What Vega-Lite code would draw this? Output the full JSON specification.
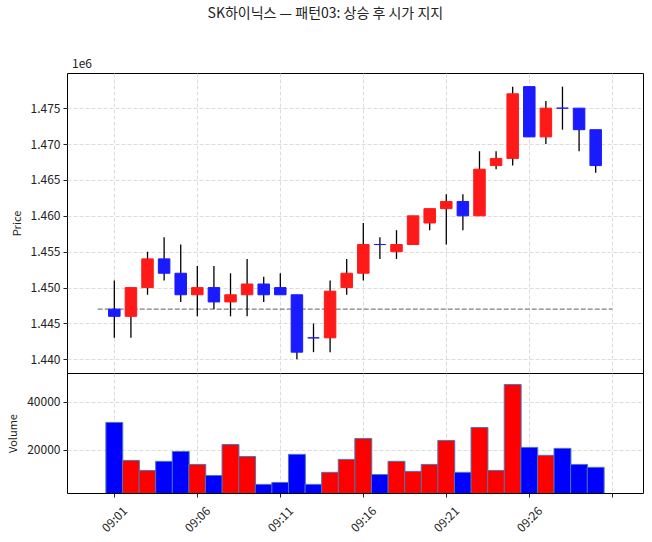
{
  "$schema": "https://vega.github.io/schema/vega-lite/v6.json",
  "padding": {"left": 7, "top": 6, "right": 5, "bottom": 5},
  "bounds": "flush",
  "title": {"text": "SK하이닉스 — 패턴03: 상승 후 시가 지지", "font": "Noto Sans CJK KR", "fontSize": 14, "fontWeight": "normal", "color": "#222222", "anchor": "middle", "frame": "bounds", "offset": 37},
  "config": {
    "font": "Noto Sans CJK KR",
    "view": {"stroke": "black", "strokeWidth": 1},
    "axis": {"labelFont": "Noto Sans CJK KR", "titleFont": "Noto Sans CJK KR", "labelFontSize": 12, "titleFontSize": 11, "titleFontWeight": "normal", "labelColor": "#222222", "titleColor": "#222222", "tickColor": "#222222", "domain": false, "tickSize": 4, "labelPadding": 3, "gridColor": "#d3d3d3", "gridDash": [4, 2], "gridWidth": 0.8}
  },
  "datasets": {
    "candles": [
      {"t": "2024-01-02T09:01:00", "o": 1447000, "h": 1451000, "l": 1443000, "c": 1446000, "v": 31400},
      {"t": "2024-01-02T09:02:00", "o": 1446000, "h": 1450000, "l": 1443000, "c": 1450000, "v": 15600},
      {"t": "2024-01-02T09:03:00", "o": 1450000, "h": 1455000, "l": 1449000, "c": 1454000, "v": 11400},
      {"t": "2024-01-02T09:04:00", "o": 1454000, "h": 1457000, "l": 1451000, "c": 1452000, "v": 15200},
      {"t": "2024-01-02T09:05:00", "o": 1452000, "h": 1456000, "l": 1448000, "c": 1449000, "v": 19300},
      {"t": "2024-01-02T09:06:00", "o": 1449000, "h": 1453000, "l": 1446000, "c": 1450000, "v": 13900},
      {"t": "2024-01-02T09:07:00", "o": 1450000, "h": 1453000, "l": 1447000, "c": 1448000, "v": 9300},
      {"t": "2024-01-02T09:08:00", "o": 1448000, "h": 1452000, "l": 1446000, "c": 1449000, "v": 22200},
      {"t": "2024-01-02T09:09:00", "o": 1449000, "h": 1454000, "l": 1446000, "c": 1450500, "v": 17200},
      {"t": "2024-01-02T09:10:00", "o": 1450500, "h": 1451500, "l": 1448000, "c": 1449000, "v": 5600},
      {"t": "2024-01-02T09:11:00", "o": 1450000, "h": 1452000, "l": 1449000, "c": 1449000, "v": 6400},
      {"t": "2024-01-02T09:12:00", "o": 1449000, "h": 1449000, "l": 1440000, "c": 1441000, "v": 18100},
      {"t": "2024-01-02T09:13:00", "o": 1443000, "h": 1445000, "l": 1441000, "c": 1443000, "v": 5600},
      {"t": "2024-01-02T09:14:00", "o": 1443000, "h": 1451000, "l": 1441000, "c": 1449500, "v": 10600},
      {"t": "2024-01-02T09:15:00", "o": 1450000, "h": 1454000, "l": 1449000, "c": 1452000, "v": 16000},
      {"t": "2024-01-02T09:16:00", "o": 1452000, "h": 1459000, "l": 1451000, "c": 1456000, "v": 24700},
      {"t": "2024-01-02T09:17:00", "o": 1456000, "h": 1457000, "l": 1454000, "c": 1456000, "v": 9700},
      {"t": "2024-01-02T09:18:00", "o": 1455000, "h": 1458000, "l": 1454000, "c": 1456000, "v": 15200},
      {"t": "2024-01-02T09:19:00", "o": 1456000, "h": 1460000, "l": 1456000, "c": 1460000, "v": 11000},
      {"t": "2024-01-02T09:20:00", "o": 1459000, "h": 1461000, "l": 1458000, "c": 1461000, "v": 13900},
      {"t": "2024-01-02T09:21:00", "o": 1461000, "h": 1463000, "l": 1456000, "c": 1462000, "v": 23900},
      {"t": "2024-01-02T09:22:00", "o": 1462000, "h": 1463000, "l": 1458000, "c": 1460000, "v": 10600},
      {"t": "2024-01-02T09:23:00", "o": 1460000, "h": 1469000, "l": 1460000, "c": 1466500, "v": 29300},
      {"t": "2024-01-02T09:24:00", "o": 1467000, "h": 1469000, "l": 1466500, "c": 1468000, "v": 11400},
      {"t": "2024-01-02T09:25:00", "o": 1468000, "h": 1478000, "l": 1467000, "c": 1477000, "v": 47200},
      {"t": "2024-01-02T09:26:00", "o": 1478000, "h": 1478000, "l": 1471000, "c": 1471000, "v": 21000},
      {"t": "2024-01-02T09:27:00", "o": 1471000, "h": 1476000, "l": 1470000, "c": 1475000, "v": 17700},
      {"t": "2024-01-02T09:28:00", "o": 1475000, "h": 1478000, "l": 1472000, "c": 1475000, "v": 20600},
      {"t": "2024-01-02T09:29:00", "o": 1475000, "h": 1475000, "l": 1469000, "c": 1472000, "v": 13900},
      {"t": "2024-01-02T09:30:00", "o": 1472000, "h": 1472000, "l": 1466000, "c": 1467000, "v": 12700}
    ],
    "ref": [{"t0": "2024-01-02T09:00:00", "t1": "2024-01-02T09:31:00", "p": 1447000}]
  },
  "spacing": 0,
  "vconcat": [
    {
      "width": 576,
      "height": 300,
      "data": {"name": "candles"},
      "layer": [
        {
          "data": {"name": "ref"},
          "mark": {"type": "rule", "color": "#808080", "strokeDash": [5, 2], "strokeWidth": 1.1},
          "encoding": {
            "x": {"field": "t0", "type": "temporal",
              "scale": {"domain": [{"year": 2024, "month": 1, "date": 2, "hours": 8, "minutes": 58, "seconds": 27}, {"year": 2024, "month": 1, "date": 2, "hours": 9, "minutes": 32, "seconds": 33}], "nice": false},
              "axis": {"title": null, "labels": false, "ticks": false, "domain": false, "tickSize": 0, "labelPadding": 0, "grid": true, "minExtent": 0, "maxExtent": 0,
                "values": [
                  {"year": 2024, "month": 1, "date": 2, "hours": 9, "minutes": 1},
                  {"year": 2024, "month": 1, "date": 2, "hours": 9, "minutes": 6},
                  {"year": 2024, "month": 1, "date": 2, "hours": 9, "minutes": 11},
                  {"year": 2024, "month": 1, "date": 2, "hours": 9, "minutes": 16},
                  {"year": 2024, "month": 1, "date": 2, "hours": 9, "minutes": 21},
                  {"year": 2024, "month": 1, "date": 2, "hours": 9, "minutes": 26},
                  {"year": 2024, "month": 1, "date": 2, "hours": 9, "minutes": 31}
                ]}},
            "x2": {"field": "t1"},
            "y": {"field": "p", "type": "quantitative",
              "scale": {"domain": [1438100, 1479900], "nice": false, "zero": false},
              "axis": {"title": "Price", "titlePadding": 8, "grid": true,
                "values": [1440000, 1445000, 1450000, 1455000, 1460000, 1465000, 1470000, 1475000],
                "labelExpr": "format(datum.value / 1000000, '.3f')"}}
          }
        },
        {
          "mark": {"type": "rule", "color": "black", "strokeWidth": 1.3},
          "encoding": {
            "x": {"field": "t", "type": "temporal"},
            "y": {"field": "l", "type": "quantitative"},
            "y2": {"field": "h"}
          }
        },
        {
          "mark": {"type": "bar", "size": 11.5, "strokeWidth": 1},
          "encoding": {
            "x": {"field": "t", "type": "temporal"},
            "y": {"field": "o", "type": "quantitative"},
            "y2": {"field": "c"},
            "fill": {"condition": {"test": "datum.c > datum.o", "value": "#ff1a1a"}, "value": "#1a1aff"},
            "stroke": {"condition": {"test": "datum.c > datum.o", "value": "#ff1a1a"}, "value": "#1a1aff"}
          }
        },
        {
          "data": {"values": [{"label": "1e6"}]},
          "mark": {"type": "text", "align": "left", "baseline": "bottom", "dy": -2, "fontSize": 12, "color": "#222222", "font": "Noto Sans CJK KR"},
          "encoding": {
            "x": {"datum": {"year": 2024, "month": 1, "date": 2, "hours": 8, "minutes": 58, "seconds": 27}, "type": "temporal"},
            "y": {"datum": 1479900, "type": "quantitative"},
            "text": {"field": "label"}
          }
        }
      ]
    },
    {
      "width": 576,
      "height": 120,
      "data": {"name": "candles"},
      "mark": {"type": "bar", "size": 16.9, "stroke": "#4a78b4", "strokeWidth": 1, "clip": true},
      "encoding": {
        "x": {"field": "t", "type": "temporal",
          "scale": {"domain": [{"year": 2024, "month": 1, "date": 2, "hours": 8, "minutes": 58, "seconds": 27}, {"year": 2024, "month": 1, "date": 2, "hours": 9, "minutes": 32, "seconds": 33}], "nice": false},
          "axis": {"title": null, "grid": true, "labelAngle": -45, "labelAlign": "center", "labelBaseline": "middle", "labelPadding": 22,
            "values": [
              {"year": 2024, "month": 1, "date": 2, "hours": 9, "minutes": 1},
              {"year": 2024, "month": 1, "date": 2, "hours": 9, "minutes": 6},
              {"year": 2024, "month": 1, "date": 2, "hours": 9, "minutes": 11},
              {"year": 2024, "month": 1, "date": 2, "hours": 9, "minutes": 16},
              {"year": 2024, "month": 1, "date": 2, "hours": 9, "minutes": 21},
              {"year": 2024, "month": 1, "date": 2, "hours": 9, "minutes": 26},
              {"year": 2024, "month": 1, "date": 2, "hours": 9, "minutes": 31}
            ],
            "labelExpr": "minutes(datum.value) == 31 ? '' : timeFormat(datum.value, '%H:%M')"}},
        "y": {"field": "v", "type": "quantitative",
          "scale": {"domain": [2000, 52000], "nice": false, "zero": false},
          "axis": {"title": "Volume", "titlePadding": 8, "grid": true, "values": [20000, 40000], "format": "d"}},
        "fill": {"condition": {"test": "datum.c > datum.o", "value": "#ff0000"}, "value": "#0000ff"}
      }
    }
  ]
}
